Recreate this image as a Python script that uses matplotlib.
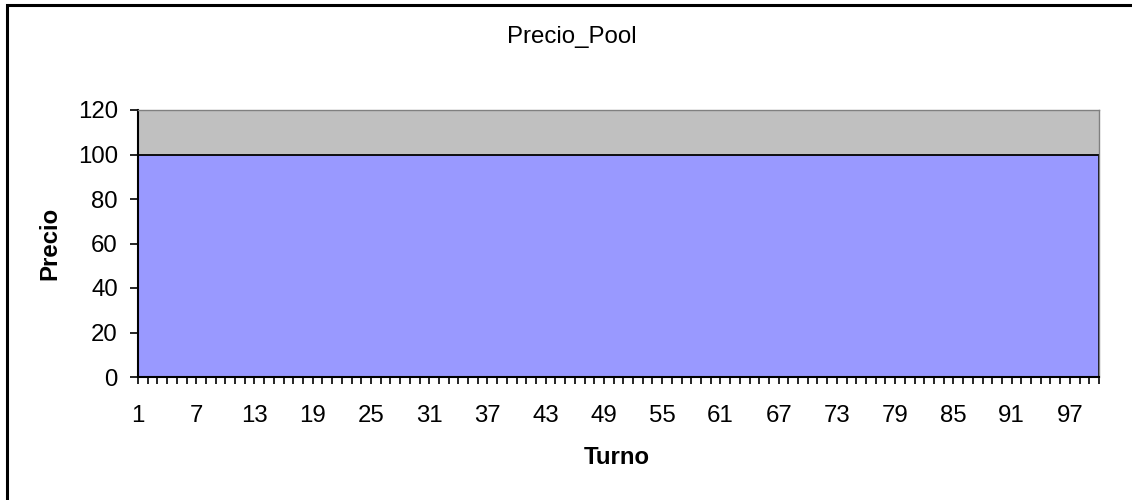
import matplotlib.pyplot as plt
from matplotlib.patches import Rectangle

plt.rcParams['font.family'] = ['Liberation Sans', 'DejaVu Sans']

# Data: turn number and pool price
turnos = list(range(1, 101))
precio = [
    100, 100, 100, 100, 100, 100, 100, 100, 100, 100,
    100, 100, 100, 100, 100, 100, 100, 100, 100, 100,
    100, 100, 100, 100, 100, 100, 100, 100, 100, 100,
    100, 100, 100, 100, 100, 100, 100, 100, 100, 100,
    100, 100, 100, 100, 100, 100, 100, 100, 100, 100,
    100, 100, 100, 100, 100, 100, 100, 100, 100, 100,
    100, 100, 100, 100, 100, 100, 100, 100, 100, 100,
    100, 100, 100, 100, 100, 100, 100, 100, 100, 100,
    100, 100, 100, 100, 100, 100, 100, 100, 100, 100,
    100, 100, 100, 100, 100, 100, 100, 100, 100, 100,
]
x_labels = [str(t) for t in turnos if (t - 1) % 6 == 0]
y_ticks = [0, 20, 40, 60, 80, 100, 120]

FS = 17.3
W, H = 1132, 500

fig = plt.figure(figsize=(W / 100, H / 100), dpi=100)
ax = fig.add_axes([138 / W, 1 - 377 / H, (1099 - 138) / W, (377 - 110) / H])

# outer chart border (only left/top visible in the reference)
fig.patches.append(Rectangle((7 / W, -0.1), 1.2, 1 - 5 / H + 0.1,
                             transform=fig.transFigure, fill=False,
                             edgecolor='black', linewidth=2.2))

ax.set_facecolor('#C0C0C0')
ax.fill_between(turnos, precio, 0, facecolor='#9999FF', edgecolor='none')
ax.plot(turnos, precio, color='black', linewidth=1.3)
ax.plot([turnos[-1], turnos[-1]], [0, precio[-1]], color='black', linewidth=1.3)

ax.set_xlim(turnos[0], turnos[-1])
ax.set_ylim(0, 120)

ax.set_xticks(turnos)
ax.set_xticklabels([str(t) if str(t) in x_labels else '' for t in turnos])
ax.set_yticks(y_ticks)
ax.tick_params(axis='both', direction='out', width=1.2, color='black',
               labelsize=FS)
ax.tick_params(axis='y', length=6, pad=8.5)
ax.tick_params(axis='x', length=5, pad=15)

for s in ['top', 'right']:
    ax.spines[s].set_color('#808080')
    ax.spines[s].set_linewidth(1.0)
for s in ['left', 'bottom']:
    ax.spines[s].set_color('black')
    ax.spines[s].set_linewidth(1.5)

fig.text(617 / W, 1 - 457 / H, 'Turno', fontsize=FS, fontweight='bold',
         ha='center', va='center')
fig.text(50 / W, 1 - 243 / H, 'Precio', fontsize=FS, fontweight='bold',
         rotation=90, ha='center', va='center')
fig.text(572 / W, 1 - 37 / H, 'Precio_Pool', fontsize=FS,
         ha='center', va='center')

fig.savefig('out.png', dpi=100)
